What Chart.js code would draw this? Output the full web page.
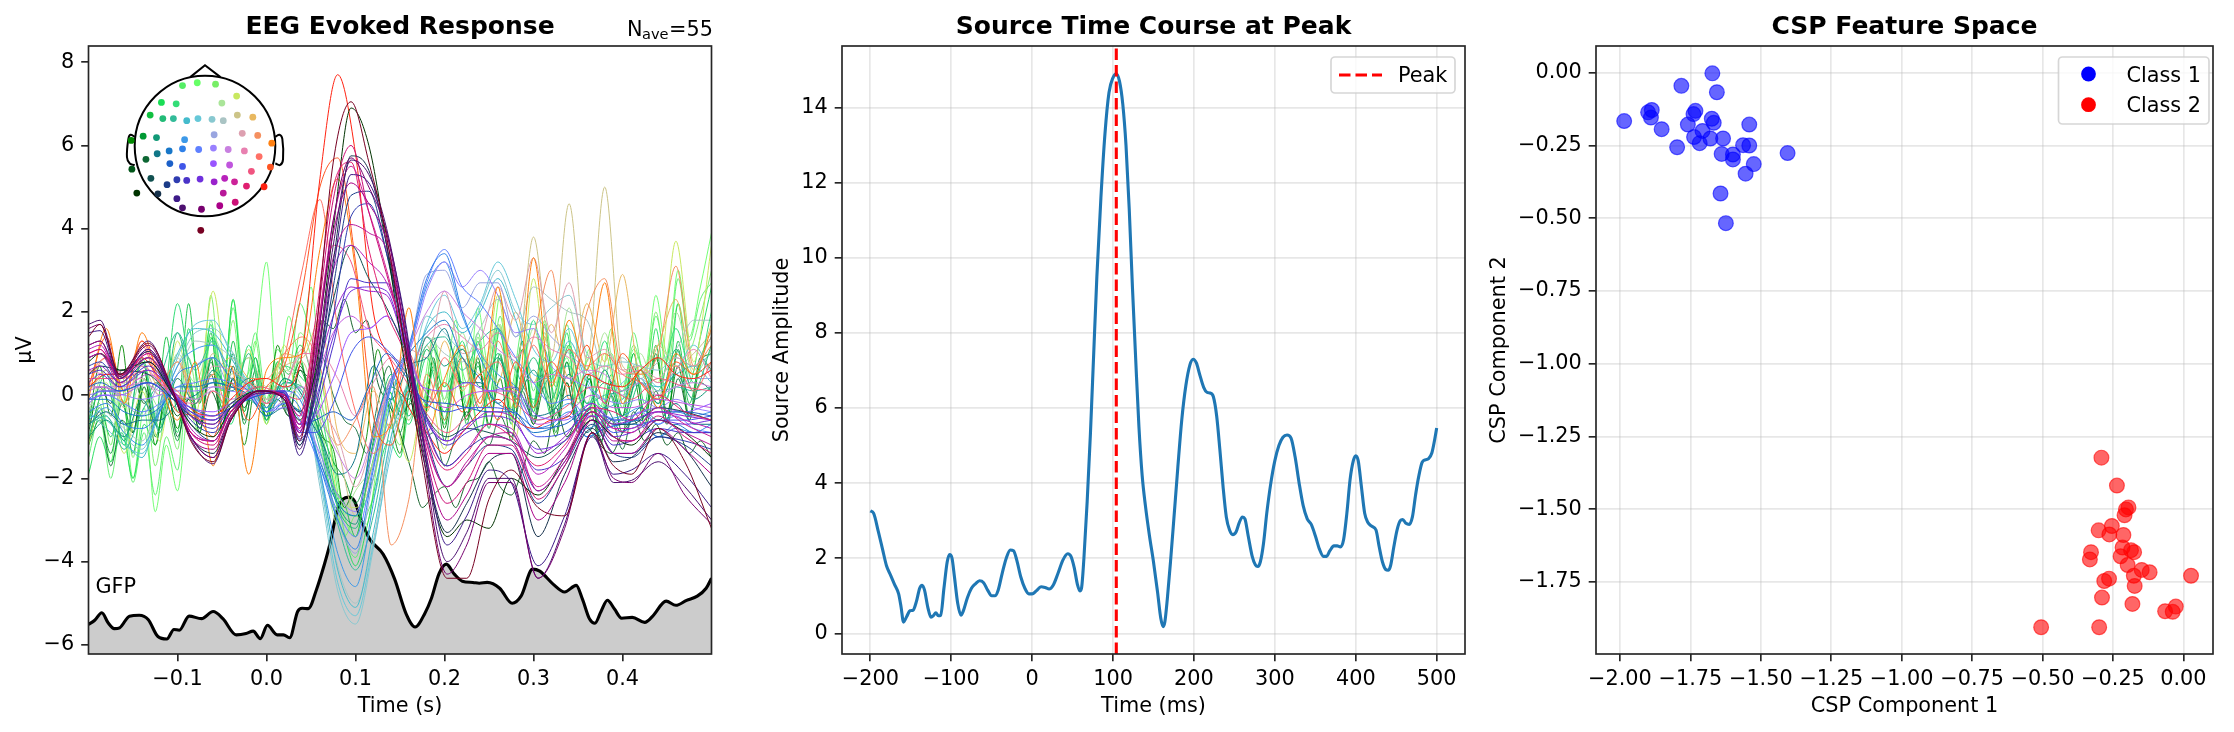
<!DOCTYPE html>
<html><head><meta charset="utf-8">
<script src="https://cdn.jsdelivr.net/npm/chart.js@4/dist/chart.umd.js"></script>
<style>
html,body{margin:0;padding:0;background:#fff;width:2234px;height:732px;overflow:hidden}
canvas{position:absolute}
</style></head><body>
<canvas id="c1" width="760" height="732" style="left:0;top:0"></canvas>
<canvas id="c2" width="720" height="732" style="left:750px;top:0"></canvas>
<canvas id="c3" width="764" height="732" style="left:1470px;top:0"></canvas>
<canvas id="head" width="200" height="200" style="left:105px;top:45.5px"></canvas>
<script>
// ---------- Panel 1 : butterfly, sampled on three time grids (seconds) ----------
const tS=[-.2,-.187,-.165,-.133,-.105,-.085,-.06,-.04,-.008,.02,.037,.055,.075,.095,.115,.135,.155,.175,.203,.225,.25,.275,.305,.335,.366,.39,.41,.44,.47,.5];
const tM=[-.2,-.18,-.16,-.14,-.12,-.1,-.08,-.06,-.04,-.02,0,.02,.04,.06,.08,.1,.12,.14,.16,.18,.2,.22,.24,.26,.28,.3,.32,.34,.36,.38,.4,.42,.44,.46,.48,.5];
const tN=[-.2,-.1875,-.175,-.1625,-.15,-.1375,-.125,-.1125,-.1,-.0875,-.075,-.0625,-.05,-.0375,-.025,-.0125,0,.0125,.025,.0375,.05,.0625,.075,.0875,.1,.1125,.125,.1375,.15,.1625,.175,.1875,.2,.2125,.225,.2375,.25,.2625,.275,.2875,.3,.3125,.325,.3375,.35,.3625,.375,.3875,.4,.4125,.425,.4375,.45,.4625,.475,.4875,.5];

const ch59=[1.4,1.7,.5,1.25,.1,-1.1,-1.6,-.6,.1,-.1,-1.1,1.4,5.6,7.05,5.6,3.8,1.2,-1.6,-4.4,-4.4,-2.5,-1.8,-2.7,-2.9,-.9,-1.7,-1.9,-.8,-1.6,-3.2];
const ch55=[1.6,1.7,.45,1.2,.05,-1,-1.5,-.55,.05,-.05,-1,.9,4.2,5.7,5,3.9,1.6,-1.3,-4.3,-3.6,-2.1,-2.1,-4.4,-3.2,-.9,-2,-2.1,-1.4,-2.4,-3.1];
const ch54=[1.7,1.8,.5,1.3,.05,-1.05,-1.65,-.6,.1,-.1,-1.3,.4,3.6,5.65,5.3,4,1.8,-1,-4,-3.3,-2,-2,-4.4,-3.1,-.9,-2.1,-2.05,-1.6,-2.2,-3];
const ch53=[1.5,1.55,.4,1.1,.05,-1,-1.5,-.6,.1,-.1,-1.45,.1,3,5.3,5.1,3.9,1.9,-.9,-3.6,-2.9,-1.8,-2.1,-4.1,-2.9,-1,-1.9,-1.8,-1.4,-1.9,-2.7];
const ch52=[1.2,1.3,.5,1.05,0,-1,-1.4,-.5,.1,-.1,-1.2,.2,3.2,5.75,5.4,3.6,1.3,-1.2,-3.3,-2.6,-1.6,-1.4,-3.4,-1.9,-.8,-1.6,-1.5,-.9,-1.3,-2.2];
const ch51=[.8,1,.6,.8,0,-.7,-1,-.3,.1,0,-.6,.6,4,6.9,6,3.6,.8,-1.4,-3.4,-3,-3.2,-2,-2.4,-1.5,-.6,-1,-1.2,-.6,-.9,-1.5];
const ch49=[.9,1,.5,.9,0,-.9,-1.1,-.4,.1,0,-.5,1.8,5,5.6,3.5,2,1,-.7,-1.8,-1.4,-.7,-1,-1.7,-1.2,-.3,-.4,-.6,0,-.4,-.6];
const ch48=[1,1.1,.45,1.05,.05,-.9,-1.1,-.4,.1,0,-.8,1.2,4.2,5.5,4.4,3,1.3,-.8,-2.2,-1.7,-1,-1.1,-2.2,-1.5,-.4,-.8,-.9,-.3,-.7,-1];
const ch47=[1.1,1.2,.4,1,.1,-.8,-1.1,-.4,.1,0,-.9,.7,3,3.6,3.2,2.7,1.4,-.5,-1.7,-1.3,-.7,-.8,-1.9,-1.3,-.3,-.8,-.8,-.4,-.6,-.8];
const ch46=[.6,.7,.3,.8,.1,-.5,-.7,-.3,.1,.05,-.7,.4,1.9,2.6,2.5,2.4,1.2,-.3,-1.1,-.8,-.4,-.5,-1.4,-1,-.2,-.7,-.6,-.4,-.5,-.6];
const ch45=[.3,.5,.2,.6,.1,-.4,-.6,-.3,.05,.1,-.85,-.1,1.4,2.5,2.6,2.5,1.2,-.4,-1.1,-.7,-.5,-.6,-1.3,-1.1,-.5,-1,-.9,-.6,-.7,-.6];
const ch44=[.5,.6,.2,.7,.05,-.5,-.8,-.3,.1,.05,-1.05,-.4,1.2,2.8,2.7,2.7,1.3,-.3,-1.2,-.9,-.7,-.9,-1.8,-1.5,-.6,-1.2,-1.1,-.8,-.9,-.9];
const ch43=[.7,.8,.3,.8,.05,-.6,-.9,-.4,.1,.05,-1.1,-.3,1.9,4.3,4.6,3.4,1.5,-.4,-1.7,-1.3,-1,-1.1,-2.3,-1.6,-.6,-1.4,-1.4,-1,-1.1,-1.3];
const ch42=[.9,1,.4,.9,.05,-.7,-1.1,-.4,.1,0,-1.2,0,2.6,4.8,4.9,3.4,1.3,-.6,-2.2,-1.7,-1.2,-1.3,-2.6,-1.7,-.7,-1.4,-1.5,-1,-1.2,-1.7];
const ch41=[.5,.7,.6,.5,-.1,-.5,-.7,-.2,.1,0,-.4,.5,2.3,3.6,2.8,2.1,1.1,-.3,-1,-.8,-.9,-1.1,-1.5,-1.1,-.4,-.7,-.7,-.3,-.4,-.6];
const ch56=[1.2,1.3,.4,1.1,.05,-1,-1.3,-.5,.1,-.05,-.9,1.1,3.9,5.1,4.6,3.7,1.6,-1,-3,-2.4,-1.4,-1.4,-3,-2.1,-.6,-1.4,-1.4,-.8,-1.3,-1.9];
const ch57=[.9,1,.3,.9,.1,-.9,-1.1,-.4,.1,0,-.8,.8,3.3,4.1,3.9,3.5,1.6,-.7,-2.2,-1.6,-1,-.9,-2.3,-1.6,-.5,-1.1,-1.1,-.6,-.9,-1.2];
const ch58=[1,1.1,.4,1,.05,-.9,-1.2,-.4,.1,0,-.7,1.5,4.7,6,4.4,2.9,1.3,-.9,-2.6,-2.1,-1.2,-1.2,-2.5,-1.7,-.4,-1,-1.1,-.5,-1,-1.4];
const ch38=[.4,.4,.4,.6,0,-.5,-.6,-.2,.2,0,-.1,1.4,3.6,3.2,1.6,1,.4,-.3,-.9,-.5,.1,-.1,-.6,-.3,.2,.1,-.1,.4,.2,.1];
const ch37=[.1,.2,.1,.5,0,-.4,-.5,-.3,.1,0,-.5,.3,1.5,1.9,1.6,1.9,1.2,.2,-.3,0,.1,.1,-.7,-.5,0,-.3,-.3,-.1,-.2,-.3];
const ch36=[-.2,0,0,.3,0,-.3,-.4,-.2,0,.1,-.7,-.5,.4,1.5,1.6,1.9,1.2,.2,.1,.3,.1,.2,-.5,-.6,-.2,-.6,-.5,-.3,-.4,-.2];
const ch35=[-.1,.1,.1,.3,-.1,-.3,-.5,-.3,0,.1,-.9,-.9,-.2,1,1.4,1.1,.6,-.1,-.4,-.3,-.3,-.4,-1,-.9,-.4,-.9,-.8,-.6,-.6,-.5];
const ch34=[.2,.3,.1,.3,-.1,-.4,-.6,-.3,0,.1,-.7,-.6,-.4,-.6,.2,1,.5,-.1,-.2,-.3,-.4,-.4,-.8,-.7,-.3,-.6,-.6,-.4,-.4,-.5];

const ch50=[.2,.5,.5,.9,.4,0,-.4,-.5,-.1,.3,.4,.2,1,5.2,7.7,5.8,2,.8,-.3,-.9,-1.4,-.9,-.4,-.1,-.6,-.8,-.6,-.5,.5,.3,.2,.6,.9,.5,.4,.6];
const ch12=[-.4,-.8,-1.2,-1.4,-.4,.9,1.7,1.8,1,.3,-.2,.2,-.1,-2,-4.5,-5.3,-3.6,-1.4,.1,1.7,2.4,1.6,2.2,3.2,2.3,1.1,.8,1.6,.4,-.1,.3,.6,.2,.6,1.2,.5];
const ch11=[-.5,-.6,-1.1,-1.5,-.2,1,1.6,1.5,.9,.2,-.2,.3,.1,-1.8,-4.2,-5.1,-3.3,-1,.3,1.6,2,1.5,2,2.8,1.8,.5,.4,1.3,.3,-.3,-.1,.3,.2,.5,.7,.3];
const ch13=[-.3,-.5,-1,-1.3,-.3,.7,1.5,1.6,1.1,.2,-.3,.3,.1,-2.2,-4.7,-5.5,-3.7,-1.2,.2,1.9,1.5,1.1,2.1,3,2,1.7,2.1,2.4,1,.7,.8,.7,.6,.9,.7,1];
const ch14=[-.2,-.4,-.8,-1.1,-.2,.5,1.3,1.2,.9,.1,-.2,.2,.2,-1.9,-4.1,-5,-3.5,-1,.4,1.4,1,.8,1.6,2.3,1.4,2.6,2.3,2,1.8,.6,.9,.4,.8,1.1,1.8,1.8];
const ch10=[-.7,-.5,-1.3,-.4,.4,1.5,.6,1.3,.3,-.1,-.3,.4,0,-1.3,-3.1,-4.2,-2.9,-.7,.3,1.2,1.4,.6,1.3,1.6,.6,-.1,.5,.7,-.2,0,.1,.4,-.3,.2,.1,.2];
const ch20=[-.6,-.3,-.9,-1.2,-.4,.7,1.1,1.2,.6,.2,-.3,.1,-.2,-1.8,-3.8,-4.6,-2.6,-.1,1.1,2.6,3.2,1.9,1,.5,.2,-.6,-.5,-.2,-.8,-.6,-.5,-.3,-.7,-.4,-.5,-.4];
const ch27=[-.4,-.2,-.7,-.8,-.4,.5,.7,.9,.4,.1,-.4,0,-.4,-1.7,-3,-3.7,-1.8,.3,1.2,2.8,3.4,2,.9,.2,0,-.8,-.7,-.4,-1,-.8,-.7,-.7,-1,-.8,-.9,-.7];
const ch28=[-.1,0,-.2,-.4,-.2,.2,.3,.4,.3,.1,-.4,-.2,-.7,-1.7,-2.8,-3.4,-1.7,.2,1.1,2.7,3.5,2.6,2.2,1.6,.9,.3,-.2,-.1,-.5,-.5,-.7,-.4,-.7,-.5,-.8,-.9];
const ch29=[0,.1,0,-.1,0,.1,.1,.2,.1,0,-.4,-.3,-.5,-1.4,-2.4,-2.8,-1.3,.3,1,2.5,3.2,2.6,3,2.4,1.5,1.6,.7,.4,.2,-.1,-.2,-.1,-.3,-.1,-.3,-.4];
const ch30=[.2,.2,.2,.3,.1,0,-.1,.1,-.1,0,-.4,-.1,.2,-.5,-1.4,-2,-.9,.4,1.1,2,2.5,2,1.6,1.1,.8,.3,.5,.4,.6,.5,.1,.3,0,.2,.3,.2];
const ch26=[-.1,-.1,-.4,-.5,-.3,.2,.2,.3,.2,0,-.5,-.2,-.5,-1.6,-2.6,-2.9,-.9,.4,1,1.5,1.8,.9,.4,-.2,-.4,-.9,-.8,-.5,-1,-.8,-.7,-.6,-1,-.7,-.9,-.9];
const ch25=[-.7,-.4,-.7,-.6,-.6,-.2,0,.3,.2,0,-.5,-.3,-.4,-1,-1.9,-1.5,.7,-.1,.7,.9,1.6,.3,.3,-.2,.2,-.5,-.4,0,-.9,-.3,-.9,-.3,-.6,-.2,-.7,-.7];
const ch19=[-1,-.6,-1,-.1,-.8,.4,-.2,.6,.1,.4,-.4,.4,0,-.9,-2.6,-3.1,-.9,.2,-.1,1.4,.7,1.1,.2,.9,-.1,.6,-.3,.5,-.4,.6,-.5,.6,-.2,.5,-.1,.2];
const ch31=[.6,.5,.6,.7,.3,-.1,-.2,.2,.2,.1,-.2,.2,1,1,.4,-.5,.3,.9,.7,1.4,1.7,1.4,1.1,1.5,.9,1.4,1.1,.9,.5,.7,.5,.6,.3,.6,1.1,.4];
const ch22=[.3,.1,.3,.4,0,.4,-.2,.7,.6,.3,-.1,.2,1.1,-.2,-1,-2.2,-1,.3,1.1,.9,2.5,1,1.3,2.6,1.8,3.3,1.5,2.7,.9,1.1,.6,.7,.4,.9,.7,1.4];
const ch15=[.1,.5,-.3,.7,0,.9,-.1,1,.4,.9,.2,.7,.8,-.6,-1.3,-2.9,-1.6,.4,-.6,1.2,-.4,1.1,.5,1.7,.6,3.8,.9,4.6,.8,5,.7,.5,1.2,.7,1,1.5];
const ch16=[.1,.6,-.2,.8,.2,.8,.2,.5,.9,.4,.1,1,.9,1.8,-.9,-1.4,.1,-.8,.9,-.4,1.3,.1,1,.3,2,.3,1.7,.4,2.2,.8,2.9,.5,1.2,2.3,.6,1.7];
const ch23=[.3,.9,.1,1.2,.3,.8,-.2,.5,-.5,.4,.4,1,1.4,.7,-1.2,-.6,.2,-3.6,-2.5,.5,-.6,.9,-.3,1.3,.1,1.4,3,-.1,2,2.8,.6,.5,1,3.1,.7,1.2];
const ch24=[-.1,1.6,-.2,1.5,.3,-.6,.8,-1.7,.7,-1.9,.6,.9,1,3.5,5.2,3,-1,-.7,2.1,-.9,.4,1.2,-.2,2.6,-.3,3.3,.2,1.8,.6,2.7,-.2,.6,-.3,1,.5,1.6];
const ch32=[.5,.9,.4,1.3,.3,.1,-.6,.1,-.4,.3,-.2,.9,3,4.7,1.6,-.4,-1.4,-.6,1,-.2,.9,.2,.5,.8,-.1,1.2,.3,1.1,.7,1,.5,.3,-.1,.7,.1,.8];
const ch39=[.2,1.4,.1,1.3,.5,-.4,-.5,-1,.3,-.6,.2,.7,2.5,5,5.7,3.2,-.5,-1.2,.1,-.3,.3,-.4,.5,-.6,.8,-.3,.8,.2,1.2,-.2,1,.3,-.1,.8,.5,.8];
const ch21=[-.1,0,-.2,-.5,.2,.1,.7,.9,.2,.2,-.2,.1,-.2,-1.5,-3,-3.8,-2,.2,1.1,2.9,3,2.1,2.7,2.7,1.4,1.9,1.4,1,.6,.3,0,.4,.1,.2,.4,.4];
const ch7=[-.4,.6,-.9,.4,-.3,1,.3,1.4,.5,.9,-.1,.6,.2,-1.1,-3.1,-2.3,-1.6,.2,-.6,1.1,-.1,1.5,-.2,1.7,-.1,1.6,-.2,2.1,-.2,1.5,-.3,1,-.1,2,.5,1.1];
const ch4=[-1.2,.3,-1.4,.1,-1.1,1.3,-.5,2.5,-.4,1.1,-.7,1.2,-.5,.4,-2.4,-2.7,-2,-.4,-1.6,.3,-1.3,.9,-.9,2.4,-1,2.8,-.3,1.2,-.7,1,-.6,.7,.3,3.7,.8,3.6];
const ch9=[-1,.2,-1.1,.8,-.9,1.5,-.2,.9,-.3,1,-.6,.3,.2,-1,-2.7,-3.2,-1.2,.5,-.5,1.1,.2,.9,-.4,1,-.1,.9,-.1,1.1,-.2,.3,-.7,.3,-.2,1.1,.1,1.2];
const ch6=[-.6,.5,-1.2,.9,-.8,2.2,-.1,1.4,-.7,1.2,-.4,.7,.4,-.3,-2.5,-2.9,-2,-.1,-.7,.9,-.4,1.3,-.9,1.6,-.2,1.8,-.5,1.2,-.4,1.3,-.6,.6,.1,1.6,.3,2];

const ch1=[-1.5,-.5,-2,-.6,-2.1,-.9,-2.4,-1,-1.8,.4,-.6,1.8,.1,2.1,.2,1.5,-.1,1.1,.6,2.2,1.4,.3,-1.6,-3.3,-3.9,-2.9,-2.1,-.3,-.6,.6,-.2,1.1,-.1,1.2,.3,1.5,.3,1.9,.2,1.6,.1,1.4,.2,1.7,.1,.9,-.3,1,-.1,1.5,.4,1.9,.8,2.8,1.3,2.3,2.7];
const ch2=[-1.1,-.2,-1.6,.2,-2,-.3,-2.8,-1.2,-2.3,-.4,-.9,1.4,-.3,2.3,.4,1.2,3.2,.3,1.9,.9,2.6,-.2,-1.5,-2.9,-3.4,-2.2,-1.2,.1,-.5,.7,.2,1.4,.2,1.8,-.2,2.1,.6,2.4,0,1.3,-.2,1.8,.3,.9,-.1,1.1,-.4,.4,.1,1.1,.6,2.4,1,3,1.4,2.6,3.9];
const ch3=[-.8,.1,-1.2,.5,-1.5,.2,-1.7,-.4,-1.3,.9,-.2,2.4,.1,1.8,-.4,1.3,-.6,.8,-.2,1.5,.9,-.9,-2.1,-3.4,-2.9,-3.1,-1.6,-.7,-1.2,.3,-.4,1.3,-.2,.6,-.5,1.4,-.1,1.7,-.3,1.1,-.4,1.5,.2,1.2,-.2,.7,.3,1.6,.2,1.2,.5,2,.6,2.2,1.1,1.9,3];
const ch5=[-1.9,-1,-1.6,-.9,-2,-.7,-1.2,.2,-.9,1.6,.2,1.7,-.2,2.3,-.1,.9,-.7,.7,.1,.9,-.4,-1.3,-2.6,-3.4,-4.1,-3.2,-1.9,-1.1,-1.5,-.1,-.9,.6,-.7,.8,-.3,1.3,-.1,1.6,-.6,1.3,-.4,1.1,-.1,1.5,-.5,.4,-.7,.5,-.3,1,-.2,1.6,-.1,2.2,.3,1.4,2.6];
const ch8=[-1.2,-.3,-1,-.1,-1.4,.4,-.6,1.4,-.4,2.2,-.2,1.5,-.8,1.3,-.4,.9,-.2,.8,.5,1.2,.5,-1.3,-2.2,-2.6,-3.4,-2.2,-1.1,.1,-.4,.4,-.5,.8,-.6,.9,-.7,.7,-.3,1,-.7,1.1,-.3,1.7,-.5,.8,-.7,.4,-.8,.3,-.5,1,-.6,1.2,-.6,1.3,-.2,.9,1.4];
const ch17=[-.7,.7,-.5,1.2,-.9,.6,-1.2,.1,-.8,.3,-.9,.9,-.8,.4,-1.2,.2,-.5,1.2,.1,.8,-.3,-1,-1.3,-2.7,-2,-1,1.1,-.3,-1.4,.3,-1,.9,-.8,.7,-.6,.9,-.7,.4,-1.1,.5,-.7,.2,-1,.3,-.9,.5,-1.2,0,-.9,.4,-.7,.9,-.4,.7,-.6,.8,1];
const ch18=[-1.2,-.6,-1.4,-.2,-.9,.6,-1,-.2,-1.1,.4,-.7,.8,-.3,1,-.7,.6,-.6,.2,-.4,.6,-.1,-.9,-1.6,-2,-2.6,-1.9,-.6,-.1,-.9,.2,-.7,.7,-1.1,.5,-.5,.8,-.8,.9,-.4,1.3,-.6,.9,-.9,.8,-.7,.4,-1,.3,-.5,.7,-.4,1,-.6,1.1,-.5,.9,.6];
const ch33=[-1.1,-.4,-1.7,-.6,-.9,.2,-.7,.3,-1,-.1,-.7,.5,-.4,.7,-.6,.4,-.3,.1,-.5,.7,.2,.9,0,-.6,-.8,-1.4,-.2,.7,-.5,-.2,-1.1,-.9,-1.7,-1,-.4,-.9,-1.2,-.5,-1,.1,-.7,.6,-.6,.3,-.8,-.3,-1.1,-.6,-1.3,-.4,-.8,.1,-.7,.4,-.5,.3,.1];
const ch40=[-.9,.2,-.2,.6,.5,-.2,.3,0,-.5,-.1,-.8,.1,-.4,.4,-.3,.2,-.4,-.1,-.5,.6,.4,1.8,1.6,2.3,1.5,1.8,.3,-.2,-.9,-1.8,-2.7,-2.4,-2.2,-2.7,-2.1,-2,-1.6,-2.2,-2.4,-1.8,-1.1,-1.4,-.3,-1,-.6,-.8,-1.2,-1.4,-.9,-.6,-1.1,-.7,-1.2,-.9,-1.4,-1.1,-1.5];

const gfpTime=[-.2,-.193,-.185,-.178,-.171,-.165,-.154,-.143,-.133,-.122,-.112,-.104,-.098,-.087,-.073,-.06,-.049,-.034,-.023,-.015,-.007,.001,.012,.019,.026,.035,.04,.047,.056,.065,.071,.08,.086,.092,.099,.106,.116,.131,.144,.157,.167,.178,.185,.194,.202,.211,.22,.232,.239,.248,.262,.276,.286,.299,.307,.322,.335,.348,.355,.363,.369,.376,.383,.391,.399,.411,.425,.434,.449,.46,.472,.484,.494,.5];
const gfpVal=[-5.51,-5.41,-5.23,-5.47,-5.61,-5.59,-5.31,-5.29,-5.39,-5.8,-5.86,-5.63,-5.65,-5.31,-5.37,-5.2,-5.37,-5.76,-5.73,-5.67,-5.85,-5.53,-5.76,-5.76,-5.83,-5.2,-5.12,-5.13,-4.68,-4.07,-3.6,-2.72,-2.5,-2.45,-2.55,-2.98,-3.46,-3.82,-4.42,-5.26,-5.57,-5.24,-4.9,-4.28,-4.06,-4.3,-4.47,-4.5,-4.52,-4.5,-4.64,-5,-4.83,-4.18,-4.23,-4.54,-4.73,-4.57,-4.9,-5.38,-5.48,-5.19,-4.93,-5.14,-5.36,-5.34,-5.46,-5.31,-4.95,-5.05,-4.93,-4.83,-4.64,-4.4];

const smoothSeries=[[59,ch59],[55,ch55],[54,ch54],[53,ch53],[56,ch56],[52,ch52],[58,ch58],[57,ch57],[48,ch48],[51,ch51],[42,ch42],[43,ch43],[49,ch49],[47,ch47],[44,ch44],[45,ch45],[46,ch46],[41,ch41]];
const lightSeries=[[34,ch34],[35,ch35],[36,ch36],[37,ch37],[38,ch38]];
const midSeries=[[50,ch50],[24,ch24],[39,ch39],[32,ch32],[27,ch27],[28,ch28],[29,ch29],[30,ch30],[26,ch26],[25,ch25],[19,ch19],[31,ch31],[20,ch20],[21,ch21],[22,ch22],[23,ch23],[10,ch10],[9,ch9],[6,ch6],[11,ch11],[12,ch12],[13,ch13],[14,ch14],[7,ch7],[16,ch16],[15,ch15],[4,ch4]];
const noisySeries=[[33,ch33],[40,ch40],[17,ch17],[18,ch18],[8,ch8],[5,ch5],[1,ch1],[2,ch2],[3,ch3]];

// sensor head coordinates and colours (index = channel number - 1)
const sensorX=[-.32,-.11,.15,.45,-.62,-.41,.24,-.78,-.6,-.45,-.26,-.1,.1,.26,.46,.68,-1.05,-.88,-.69,-.29,.13,.53,.75,.95,-.68,-.51,-.32,-.09,.12,.33,.56,.77,-.84,-.5,-.32,.12,.35,.66,.93,-1.04,-.77,-.54,-.4,-.26,-.07,.13,.28,.42,.59,.84,-.97,-.67,-.4,-.32,-.05,.21,.26,.43,-.06];
const sensorY=[.86,.9,.88,.71,.62,.6,.61,.44,.39,.39,.36,.39,.38,.36,.44,.41,.08,.14,.12,.09,.16,.18,.15,.04,-.11,-.07,-.04,-.05,-.03,-.05,-.07,-.15,-.19,-.25,-.29,-.25,-.27,-.36,-.3,-.33,-.46,-.55,-.48,-.49,-.47,-.51,-.46,-.51,-.57,-.58,-.67,-.68,-.75,-.88,-.9,-.85,-.67,-.8,-1.2];
const sensorColor=['#55ee66','#66ff66','#77ee66','#c8e860','#19dd55','#33dd77','#aae599','#10c040','#22bb77','#33bb99','#44bbcc','#66c8d8','#88c8d0','#aac4c4','#ccc488','#e8b860','#008800','#009933','#119977','#3d99e8','#99a5e0','#dda0b0','#f59060','#ff8011','#117788','#1877c8','#2f80e8','#5f80ff','#9980ff','#c880e0','#e880b0','#ff7066','#0d6633','#1c60c8','#3f55e8','#9955ff','#c055dd','#f05580','#ff5522','#005518','#115050','#1c3c88','#2f3cb0','#4a33c8','#6f30dd','#9a22cc','#b822bb','#cc2299','#e01f70','#ff2211','#003300','#15304a','#3d1a88','#4d1070','#77006f','#aa0088','#b81899','#cc1077','#770022'];
const noseX=[-.21,0,.22], noseY=[.98,1.15,.98];
const earLX=[-1,-1.06,-1.09,-1.11,-1.07,-1], earLY=[.13,.16,.1,-.16,-.25,-.27];
const earRX=[1,1.06,1.1,1.11,1.07,1], earRY=[.13,.16,.1,-.19,-.27,-.25];

// ---------- Panel 2 ----------
const srcTime=[-200,-196,-190,-185,-180,-175,-170,-165,-162,-159,-155,-151,-147,-143,-139,-136,-133,-129,-125,-122,-119,-116,-113,-109,-105,-102,-99,-96,-92,-88,-85,-80,-75,-70,-65,-60,-55,-50,-46,-42,-37,-32,-27,-23,-19,-14,-9,-4,0,5,11,16,21,26,32,38,44,48,52,56,59,61,64,68,72,76,80,85,90,95,100,104,108,112,116,120,124,128,132,136,140,145,150,155,159,162,164,167,171,175,180,185,190,195,199,203,207,212,216,220,224,228,232,236,240,244,248,252,256,260,263,267,272,276,279,282,286,290,295,300,305,310,315,320,325,330,335,340,345,350,355,360,364,368,373,377,381,385,389,393,397,400,403,407,411,415,420,425,429,433,437,440,443,447,451,455,458,462,466,470,474,478,482,486,490,494,497,500];
const srcAmp=[3.26,3.2,2.7,2.25,1.8,1.55,1.3,1.05,.7,.3,.45,.6,.62,.85,1.2,1.28,1.15,.7,.43,.47,.55,.47,.48,1.2,1.9,2.1,2,1.5,.8,.48,.6,.95,1.2,1.32,1.4,1.35,1.15,1,1,1.15,1.6,2,2.22,2.2,1.95,1.5,1.2,1.05,1.05,1.13,1.24,1.22,1.18,1.28,1.6,1.95,2.12,2.05,1.75,1.3,1.13,1.2,2,3.5,5.3,7.4,9.5,11.6,13.3,14.4,14.8,14.9,14.7,14.1,13,11.3,9.2,7.3,5.5,4.2,3.4,2.6,1.9,1.1,.4,.18,.3,.9,1.9,3,4.4,5.7,6.6,7.15,7.3,7.2,6.9,6.55,6.42,6.4,6.3,5.8,4.9,3.9,3.1,2.75,2.63,2.7,2.95,3.1,3.05,2.6,2.05,1.82,1.78,1.9,2.4,3.2,4,4.6,5,5.22,5.28,5.2,4.7,4,3.4,3.05,2.9,2.6,2.25,2.05,2.05,2.2,2.33,2.33,2.3,2.5,3.2,4.1,4.6,4.73,4.6,3.9,3.2,2.95,2.85,2.75,2.3,1.9,1.7,1.68,1.8,2.3,2.75,3,3.03,2.93,2.9,3.1,3.7,4.2,4.55,4.62,4.65,4.8,5.1,5.47];
const peakTime=[104,104], peakSpan=[-.55,15.64];

// ---------- Panel 3 ----------
const class1X=[-1.672,-1.782,-1.656,-1.985,-1.9,-1.887,-1.89,-1.852,-1.797,-1.759,-1.732,-1.739,-1.674,-1.667,-1.707,-1.737,-1.717,-1.679,-1.634,-1.639,-1.599,-1.599,-1.563,-1.541,-1.541,-1.525,-1.554,-1.405,-1.643,-1.624];
const class1Y=[-.002,-.045,-.067,-.166,-.136,-.128,-.154,-.194,-.256,-.178,-.131,-.142,-.158,-.172,-.2,-.221,-.242,-.226,-.226,-.279,-.281,-.298,-.249,-.25,-.178,-.314,-.347,-.276,-.415,-.517];
const class2X=[-.291,-.236,-.195,-.204,-.209,-.254,-.301,-.263,-.213,-.216,-.186,-.175,-.328,-.332,-.223,-.198,-.148,-.12,-.176,.027,-.264,-.281,-.173,-.289,-.181,-.027,-.065,-.038,-.505,-.299];
const class2Y=[-1.323,-1.419,-1.494,-1.501,-1.521,-1.558,-1.573,-1.587,-1.589,-1.632,-1.641,-1.648,-1.648,-1.673,-1.662,-1.692,-1.709,-1.717,-1.729,-1.729,-1.739,-1.747,-1.764,-1.804,-1.826,-1.835,-1.851,-1.853,-1.906,-1.906];

// tick lists
const x1Ticks=[-.1,0,.1,.2,.3,.4], y1Ticks=[-6,-4,-2,0,2,4,6,8];
const x2Ticks=[-200,-100,0,100,200,300,400,500], y2Ticks=[0,2,4,6,8,10,12,14];
const x3Ticks=[-2,-1.75,-1.5,-1.25,-1,-.75,-.5,-.25,0], y3Ticks=[-1.75,-1.5,-1.25,-1,-.75,-.5,-.25,0];

// ---------- helpers ----------
Chart.defaults.font.family='"DejaVu Sans"';
Chart.defaults.font.size=20.8;
Chart.defaults.color='#000';
const INK='#262626', TS=1.67;
const zip=(a,b)=>a.map((v,i)=>({x:v,y:b[i]}));
const minus=s=>s.replace('-','\u2212');
const frame={id:'frame',afterDraw(c){const a=c.chartArea,x=c.ctx;x.save();x.strokeStyle=INK;x.lineWidth=TS;x.strokeRect(a.left,a.top,a.right-a.left,a.bottom-a.top);x.restore();}};
function axis(min,max,ticks,dec,title,isX,size,titlePad,gridOn){
  return {type:'linear',min,max,
    afterBuildTicks(s){s.ticks=ticks.map(v=>({value:v}));},
    afterFit(s){if(isX){s.height=size;s.paddingLeft=0;s.paddingRight=0;}else{s.width=size;s.paddingTop=0;s.paddingBottom=0;}},
    border:{display:false},
    grid:{display:true,drawOnChartArea:gridOn,color:'rgba(176,176,176,.3)',lineWidth:TS,tickColor:INK,tickWidth:TS,tickLength:7.3,drawTicks:true},
    ticks:{autoSkip:false,maxRotation:0,minRotation:0,padding:isX?6:7,callback:v=>minus(Number(v).toFixed(dec))},
    title:{display:true,text:title,padding:isX?{top:0,bottom:titlePad}:{top:titlePad,bottom:0},font:{size:20.8}}
  };
}
const titleOpt=t=>({display:true,text:t,fullSize:false,font:{size:25,weight:'bold'},color:'#000',padding:{top:12,bottom:4}});
const base={responsive:false,animation:false,devicePixelRatio:1,events:[],elements:{point:{radius:0}}};
function legendBox(x,l,t,r,b){x.save();x.beginPath();x.roundRect(l,t,r-l,b-t,4);x.fillStyle='rgba(255,255,255,.8)';x.fill();x.strokeStyle='rgba(204,204,204,.8)';x.lineWidth=TS;x.stroke();x.restore();}

// ---------- chart 1 ----------
const lineDs=(list,t,w)=>list.map(([id,v])=>({label:'ch'+id,data:zip(t,v),borderColor:sensorColor[id-1],borderWidth:w,cubicInterpolationMode:'monotone',pointRadius:0,fill:false}));
const eegSets=[...lineDs(smoothSeries,tS,1),...lineDs(lightSeries,tS,1),...lineDs(midSeries,tM,1),...lineDs(noisySeries,tN,.9),
  {label:'GFP',data:zip(gfpTime,gfpVal),borderColor:'#000',borderWidth:3.1,backgroundColor:'#cccccc',fill:'start',cubicInterpolationMode:'monotone',pointRadius:0}];
const annot={id:'annot',afterDatasetsDraw(c){const x=c.ctx;x.save();x.fillStyle='#000';x.textBaseline='alphabetic';x.textAlign='left';
  x.font='20.8px "DejaVu Sans"';x.fillText('GFP',95.5,593);
  x.fillText('N',627,36);x.font='14.6px "DejaVu Sans"';x.fillText('ave',642,39);x.font='20.8px "DejaVu Sans"';x.fillText('=55',669,36);x.restore();}};
new Chart('c1',{type:'line',data:{datasets:eegSets},plugins:[annot,frame],options:{...base,
  layout:{padding:{left:0,right:48.5,top:0,bottom:0}},
  plugins:{legend:{display:false},tooltip:{enabled:false},title:titleOpt('EEG Evoked Response')},
  scales:{x:axis(-.2,.5,x1Ticks,1,'Time (s)',true,78,13,false),y:axis(-6.22,8.39,y1Ticks,0,'\u00b5V',false,88.5,13,false)}}});

// ---------- head inset ----------
const hd={type:'scatter',data:{datasets:[
  {label:'sensors',data:zip(sensorX,sensorY),pointBackgroundColor:sensorColor,pointBorderWidth:0,pointRadius:3.4},
  {label:'nose',data:zip(noseX,noseY),showLine:true,borderColor:'#000',borderWidth:2,pointRadius:0},
  {label:'earL',data:zip(earLX,earLY),showLine:true,borderColor:'#000',borderWidth:2,pointRadius:0,tension:.4},
  {label:'earR',data:zip(earRX,earRY),showLine:true,borderColor:'#000',borderWidth:2,pointRadius:0,tension:.4},
  {label:'head',data:[{x:0,y:0}],pointRadius:70.3,pointBackgroundColor:'rgba(0,0,0,0)',pointBorderColor:'#000',pointBorderWidth:2}
]},options:{...base,layout:{padding:0,autoPadding:false},clip:false,plugins:{legend:{display:false},tooltip:{enabled:false}},
  scales:{x:{display:false,min:-1.4225,max:1.4225},y:{display:false,min:-1.4225,max:1.4225}}}};
new Chart('head',hd);

// ---------- chart 2 ----------
const peakLegend={id:'peakLegend',afterDraw(c){const x=c.ctx,o=750;legendBox(x,1331-o,57,1455-o,93);x.save();
  x.strokeStyle='#ff0000';x.lineWidth=3.1;x.setLineDash([11.5,5]);x.beginPath();x.moveTo(1339-o,75);x.lineTo(1382-o,75);x.stroke();x.setLineDash([]);
  x.fillStyle='#000';x.font='20.8px "DejaVu Sans"';x.textBaseline='alphabetic';x.fillText(c.data.datasets[0].label,1398-o,82);x.restore();}};
new Chart('c2',{type:'line',data:{datasets:[
  {label:'Peak',data:zip(peakTime,peakSpan),borderColor:'#ff0000',borderWidth:3.1,borderDash:[11.5,5],pointRadius:0},
  {label:'Source',data:zip(srcTime,srcAmp),borderColor:'#1f77b4',borderWidth:3.1,cubicInterpolationMode:'monotone',pointRadius:0}
]},plugins:[frame,peakLegend],options:{...base,
  layout:{padding:{left:0,right:5,top:0,bottom:0}},
  plugins:{legend:{display:false},tooltip:{enabled:false},title:titleOpt('Source Time Course at Peak')},
  scales:{x:axis(-235,535,x2Ticks,0,'Time (ms)',true,78,13,true),y:axis(-.55,15.64,y2Ticks,0,'Source Amplitude',false,92,20,true)}}});

// ---------- chart 3 ----------
const cspLegend={id:'cspLegend',afterDraw(c){const x=c.ctx,o=1470;legendBox(x,2058.5-o,57,2209-o,124);x.save();
  const ys=[74,104.7],cols=['#0000ff','#ff0000'];
  x.font='20.8px "DejaVu Sans"';x.textBaseline='alphabetic';
  c.data.datasets.forEach((d,i)=>{x.fillStyle=cols[i];x.beginPath();x.arc(2088.5-o,ys[i],7.4,0,Math.PI*2);x.fill();x.fillStyle='#000';x.fillText(d.label,2126.4-o,ys[i]+7.5);});x.restore();}};
const pt=(c)=>({pointBackgroundColor:`rgba(${c},.6)`,pointBorderColor:`rgba(${c},.6)`,pointBorderWidth:1.2,pointRadius:7.4});
new Chart('c3',{type:'scatter',data:{datasets:[
  {label:'Class 1',data:zip(class1X,class1Y),...pt('0,0,255')},
  {label:'Class 2',data:zip(class2X,class2Y),...pt('255,0,0')}
]},plugins:[frame,cspLegend],options:{...base,
  layout:{padding:{left:0,right:21,top:0,bottom:0}},
  plugins:{legend:{display:false},tooltip:{enabled:false},title:titleOpt('CSP Feature Space')},
  scales:{x:axis(-2.085,.105,x3Ticks,2,'CSP Component 1',true,78,13,true),y:axis(-1.998,.092,y3Ticks,2,'CSP Component 2',false,126,17,true)}}});
</script>
</body></html>
